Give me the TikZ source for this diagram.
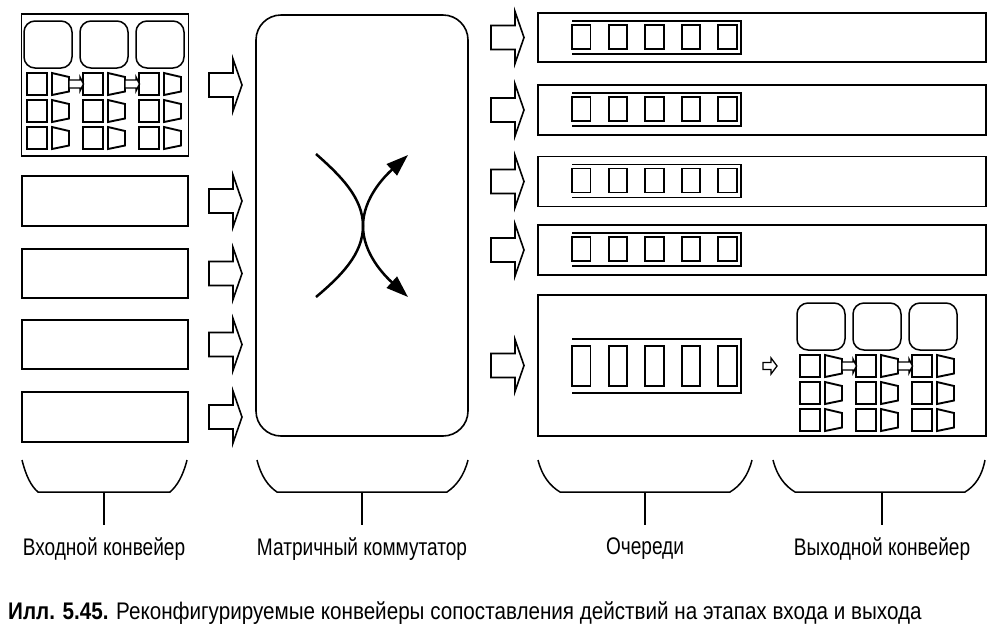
\documentclass[tikz,border=0pt]{standalone}
\usepackage{fontspec}
\setmainfont{Liberation Sans}[FakeStretch=0.86]
\newfontfamily\lblfont{Liberation Sans}[FakeStretch=0.795]
\usetikzlibrary{arrows.meta}
\begin{document}
\begin{tikzpicture}[x=1pt,y=-1pt,
  thick box/.style={draw, line width=1.9pt, inner sep=0pt, outer sep=0pt},
  switch box/.style={draw, line width=1.6pt, rounded corners=25pt, inner sep=0pt, outer sep=0pt},
  hollow arrow/.style={draw, line width=1.6pt, fill=white, line join=miter},
  cell/.style={draw, line width=1.9pt, line join=miter},
  round cell/.style={draw, line width=1.5pt, rounded corners=11pt},
  qframe/.style={draw, line width=1.5pt},
  bracket/.style={draw, line width=1.5pt},
  cross/.style={draw, line width=2.5pt, -{Triangle[length=22pt,width=15pt]}},
  lbl/.style={font=\lblfont\fontsize{24}{28}\selectfont, inner sep=0pt},
  captiontext/.style={font=\fontsize{24}{28}\selectfont, inner sep=0pt},
  pics/bigarrow/.style={code={\draw[hollow arrow] (0,-12) -- (24,-12) -- (24,-26) -- (33,0) -- (24,26) -- (24,12) -- (0,12) -- cycle;}},
  pics/smallarrow/.style={code={\draw[hollow arrow, line width=1.3pt] (0,-3.5) -- (8,-3.5) -- (8,-8) -- (14,0) -- (8,8) -- (8,3.5) -- (0,3.5) -- cycle;}},
  pics/conveyor/.style={code={
    \foreach \g in {0,56,112} {
      \draw[round cell] (\g,0) rectangle ++(48,47);
      \foreach \r in {52,79,106} {
        \draw[cell] (\g+3,\r) rectangle ++(20,22);
        \draw[cell] (\g+28,\r) -- (\g+45,\r+4) -- (\g+45,\r+18.5) -- (\g+28,\r+22) -- cycle;
      }
    }
    \foreach \g in {0,56} {
      \draw[hollow arrow, line width=1.4pt] (\g+45,59) -- (\g+56,59) -- (\g+56,56) -- (\g+59.5,63) -- (\g+56,70) -- (\g+56,67) -- (\g+45,67) -- cycle;
    }
  }},
  pics/queue/.style={code={
    \draw[qframe] (0,0) -- (169,0) -- (169,#1) -- (0,#1);
  }},
]
\useasboundingbox (0,0) rectangle (1007,641);

% input conveyor column
\node[thick box, minimum width=167pt, minimum height=142pt] (in1) at (105,85) {};
\node[thick box, minimum width=166pt, minimum height=50pt] (in2) at (105,201) {};
\node[thick box, minimum width=166pt, minimum height=49pt] (in3) at (105,273.5) {};
\node[thick box, minimum width=166pt, minimum height=49pt] (in4) at (105,344.5) {};
\node[thick box, minimum width=166pt, minimum height=50pt] (in5) at (105,417) {};
\pic at (24,21) {conveyor};

% arrows into the switch
\foreach \yy in {85,201,273.5,344.5,417} { \pic at (209,\yy) {bigarrow}; }

% switch
\node[switch box, minimum width=212pt, minimum height=421pt] (sw) at (362,225.5) {};
\coordinate (c1s) at (316,154);
\coordinate (c1m) at (363,226);
\coordinate (c1e) at (408,297);
\coordinate (c2s) at (316,297);
\coordinate (c2e) at (408,155);
\draw[cross] (c1s) .. controls (341,176) and (363,198) .. (c1m) .. controls (363,254) and (385,276) .. (c1e);
\draw[cross] (c2s) .. controls (341,276) and (363,254) .. (c1m) .. controls (363,198) and (385,176) .. (c2e);

% arrows out of the switch
\foreach \yy in {37.5,110,181.5,250,365.5} { \pic at (491,\yy) {bigarrow}; }

% queues
\node[thick box, minimum width=448pt, minimum height=49pt] (q1) at (762,37.5) {};
\node[thick box, minimum width=448pt, minimum height=50pt] (q2) at (762,110) {};
\node[thick box, minimum width=448pt, minimum height=50pt] (q3) at (762,181.5) {};
\node[thick box, minimum width=448pt, minimum height=50pt] (q4) at (762,250) {};
\node[thick box, minimum width=448pt, minimum height=141pt] (q5) at (762,365.5) {};

\foreach \t in {13,85,156.5,225} {
  \pic at (572,\t+8) {queue=33};
  \foreach \i in {0,...,4} { \draw[cell] (572+\i*36.6,\t+12) rectangle ++(18.5,24); }
}
\pic at (572,339) {queue=54};
\foreach \i in {0,...,4} { \draw[cell] (572+\i*36.6,346) rectangle ++(18.5,40); }
\pic at (763,366) {smallarrow};
\pic at (797,303) {conveyor};

% brackets
\draw[bracket] (22,460) .. controls (26,476) and (31,486) .. (38,492) -- (170,492) .. controls (177,486) and (183,476) .. (187,460);
\draw[bracket] (257,460) .. controls (261,476) and (268,486) .. (277,492) -- (447,492) .. controls (456,486) and (464,476) .. (468,460);
\draw[bracket] (538,460) .. controls (542,476) and (550,486) .. (560,492) -- (730,492) .. controls (740,486) and (748,476) .. (752,460);
\draw[bracket] (773,460) .. controls (777,476) and (785,486) .. (795,492) -- (965,492) .. controls (975,486) and (982,476) .. (985,460);

\node[lbl] (l1) at (104,549) {Входной конвейер};
\node[lbl] (l2) at (362,549) {Матричный коммутатор};
\node[lbl] (l3) at (645,549) {Очереди};
\node[lbl] (l4) at (882,549) {Выходной конвейер};
\draw[bracket] (104,492) -- (104,525);
\draw[bracket] (362,492) -- (362,525);
\draw[bracket] (645,492) -- (645,525);
\draw[bracket] (882,492) -- (882,525);

\node[captiontext, anchor=west] (capt) at (8,613) {\textbf{Илл. 5.45.} Реконфигурируемые конвейеры сопоставления действий на этапах входа и выхода};
\end{tikzpicture}
\end{document}
